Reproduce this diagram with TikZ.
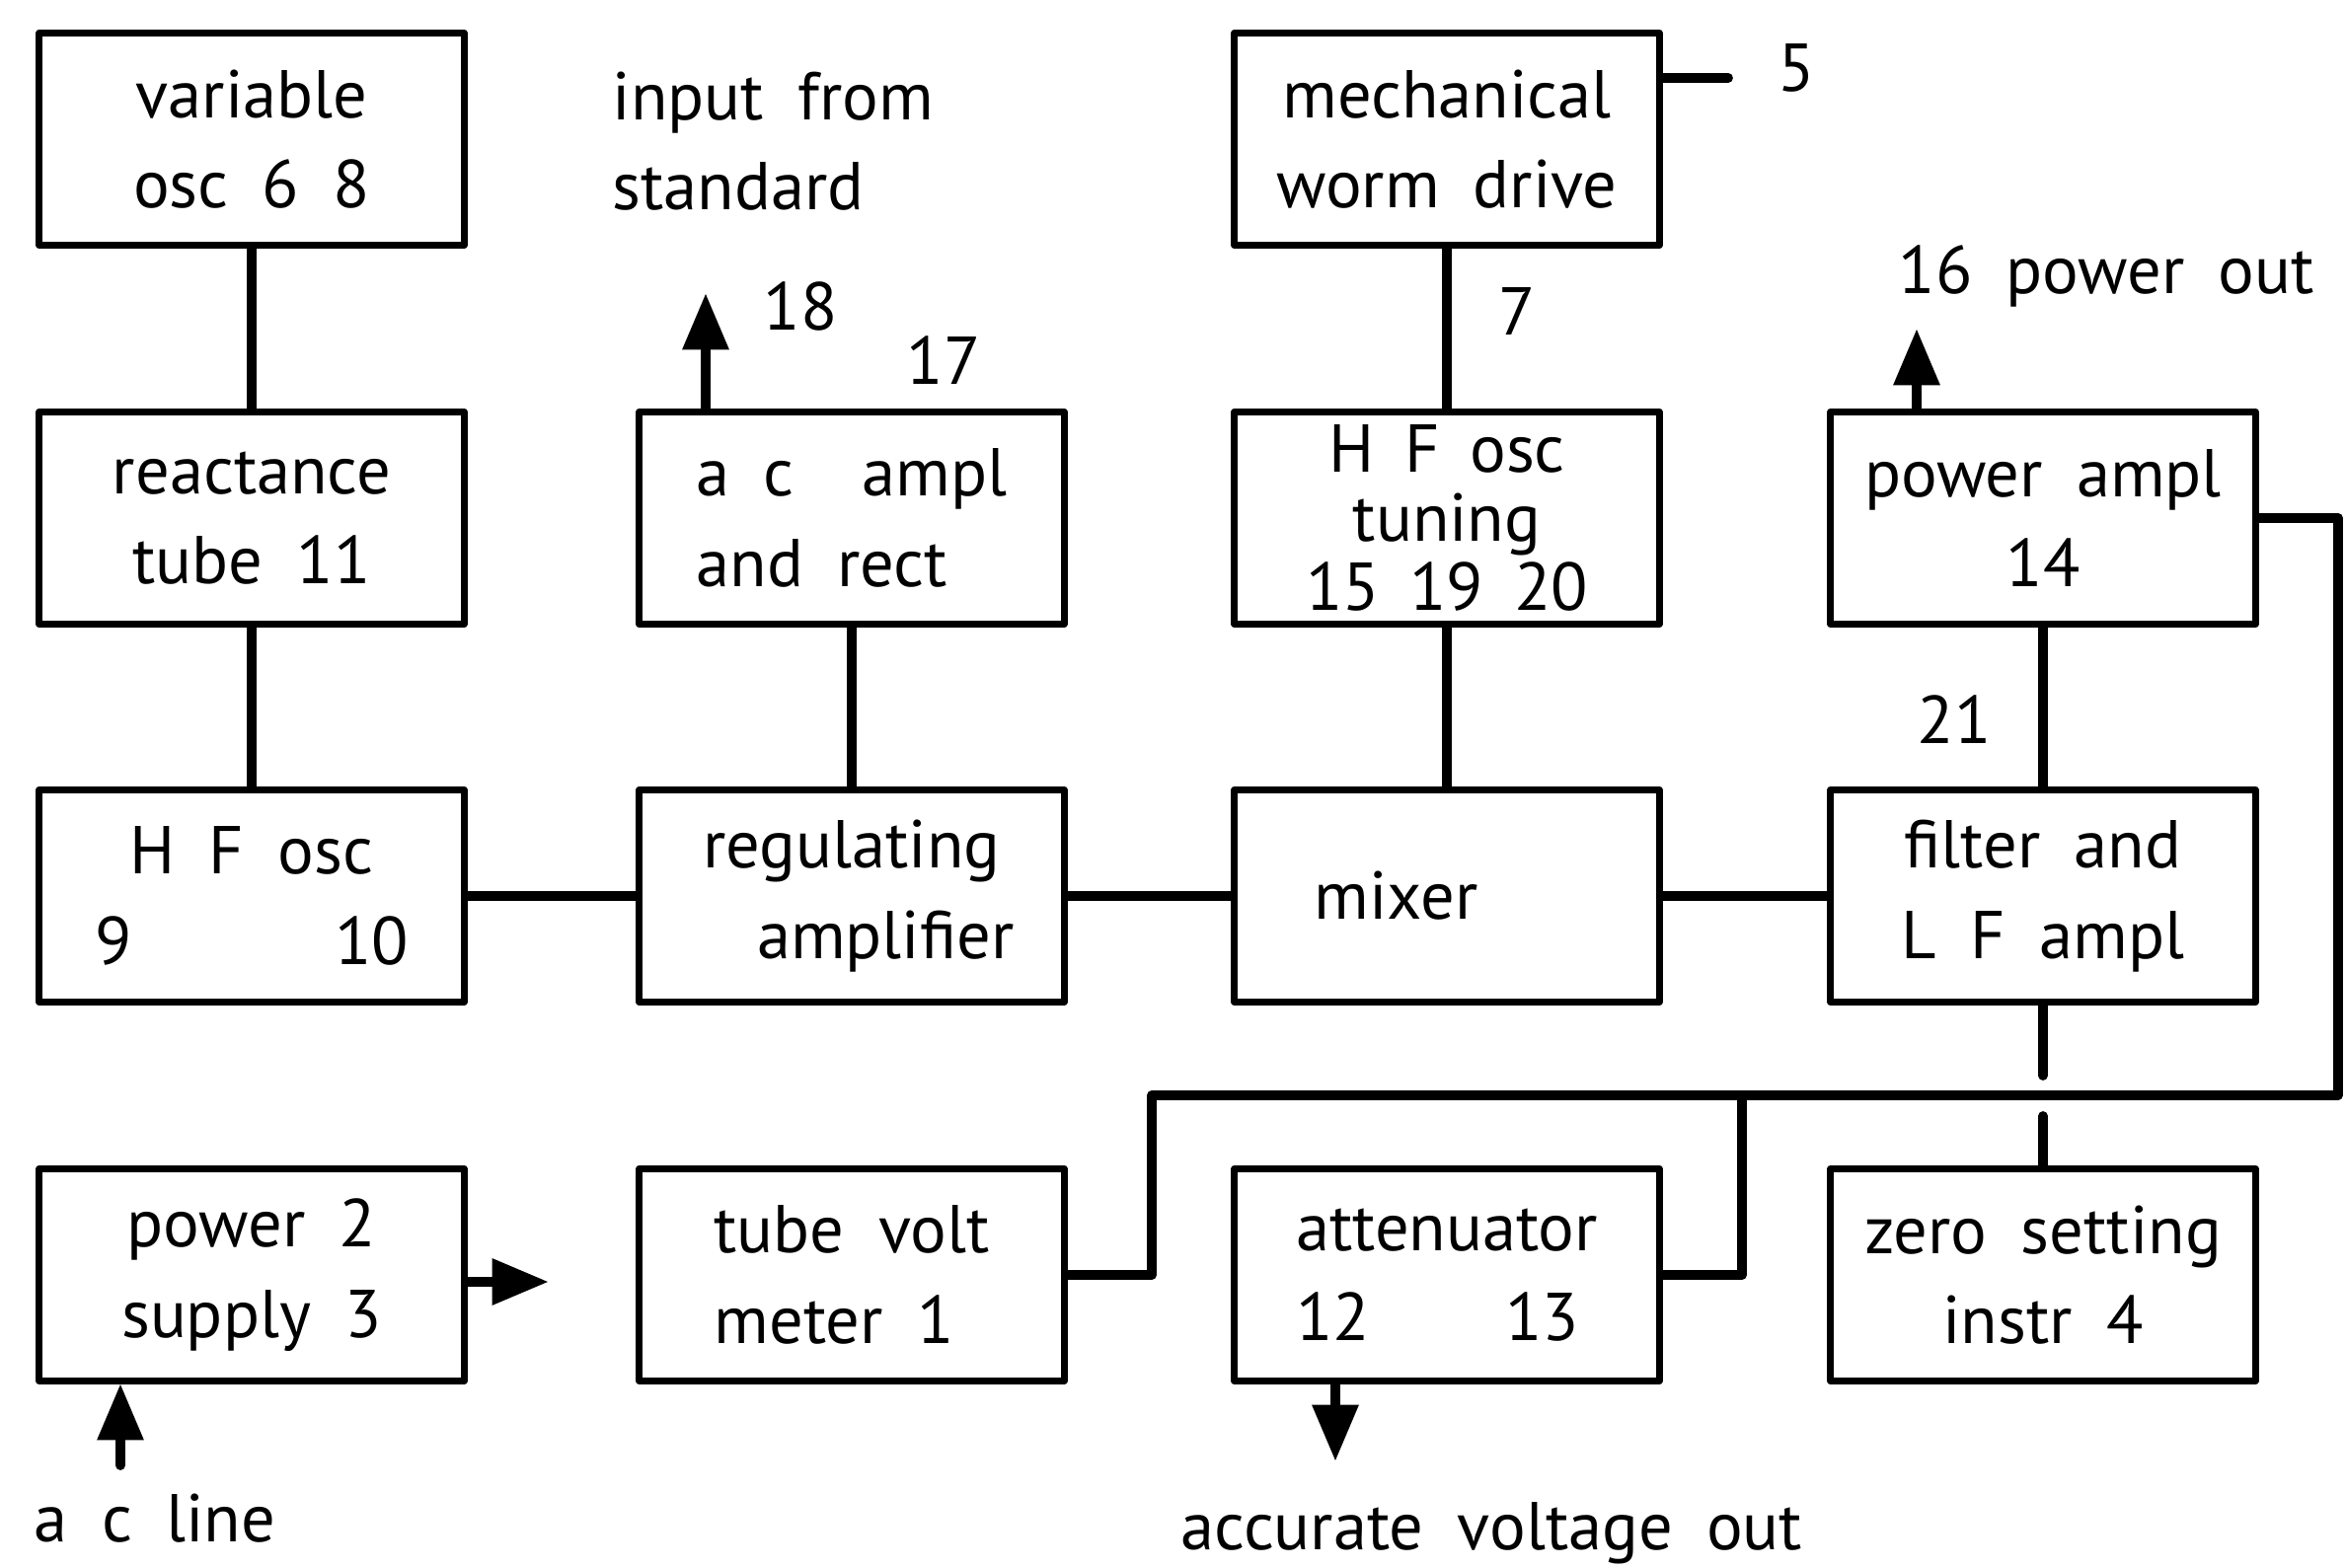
\documentclass[tikz,border=0pt]{standalone}
\usepackage{fontspec}
\setmainfont{PT Sans}
\usetikzlibrary{arrows}
\newcommand\diafont{\fontsize{19.5}{26}\selectfont\spaceskip=.5em\relax}
\newcommand\tightfont{\fontsize{19.5}{20}\selectfont\spaceskip=.45em\relax}
\tikzset{
  blk/.style={draw,line width=2pt,minimum width=4.3cm,minimum height=2.15cm,
    align=center,inner sep=2pt,font=\diafont},
  wire/.style={line width=2.8pt},
  lbl/.style={inner sep=0pt,font=\diafont}
}
\begin{document}
\begin{tikzpicture}[line cap=round,line join=round,>=triangle 45,x=0.01cm,y=-0.01cm]
\useasboundingbox (0,0) rectangle (2377,1589);
% blocks, column by column
\node[blk] (var) at (255,141) {variable\\osc 6 8};
\node[blk] (react) at (255,525) {reactance\\tube 11};
\node[blk] (hfosc) at (255,908) {H F osc\\9\hspace{3em}10};
\node[blk] (psu) at (255,1292) {power 2\\supply 3};
\node[blk,align=left] (acamp) at (863,525) {a c \ ampl\\and rect};
\node[blk] (reg) at (863,908) {regulating\\\hspace{1em}amplifier};
\node[blk,align=left] (tvm) at (863,1292) {tube volt\\meter 1};
\node[blk] (mech) at (1466,141) {mechanical\\worm drive};
\node[blk,font=\tightfont] (tune) at (1466,525) {H F osc\\tuning\\15 19 20};
\node[blk] (mixer) at (1466,908) {mixer\hspace{1.5em}};
\node[blk,align=left] (atten) at (1466,1292) {attenuator\\12\hspace{2em}13};
\node[blk] (pamp) at (2070,525) {power ampl\\14};
\node[blk] (filt) at (2070,908) {filter and\\L F ampl};
\node[blk] (zero) at (2070,1292) {zero setting\\instr 4};
% free labels
\node[lbl,anchor=west,align=left] (inp) at (620,143) {input from\\standard};
\node[lbl] (n18) at (811,311) {18};
\node[lbl] (n17) at (956,365) {17};
\node[lbl] (n5) at (1820,69) {5};
\node[lbl] (n7) at (1537,316) {7};
\node[lbl,anchor=west] (pout) at (1923,280) {16 power out};
\node[lbl] (n21) at (1980,729) {21};
\node[lbl,anchor=west] (acl) at (34,1539) {a c line};
\node[lbl,anchor=west] (vout) at (1196,1554) {accurate voltage out};
% free ends
\coordinate (o18) at (715,298);
\coordinate (o16) at (1942,334);
\coordinate (c5) at (1751,79);
\coordinate (psuout) at (555,1299);
\coordinate (acin) at (122,1485);
\coordinate (vend) at (1353,1480);
\coordinate (bR) at (2369,1110);
\coordinate (bL) at (1167,1110);
\coordinate (bA) at (1765,1110);
\coordinate (g1) at (2072,1090);
\coordinate (g2) at (2072,1131);
% connectors
\draw[wire] (var) -- (react);
\draw[wire] (react) -- (hfosc);
\draw[wire] (hfosc) -- (reg);
\draw[wire] (reg) -- (mixer);
\draw[wire] (mixer) -- (filt);
\draw[wire] (acamp) -- (reg);
\draw[wire] (mech) -- (tune);
\draw[wire] (tune) -- (mixer);
\draw[wire] (pamp) -- (filt);
\draw[wire] (mech.east |- c5) -- (c5);
\draw[wire,->] (o18 |- acamp.north) -- (o18);
\draw[wire,->] (o16 |- pamp.north) -- (o16);
\draw[wire,->] (psu.east |- psuout) -- (psuout);
\draw[wire,->] (acin) -- (acin |- psu.south);
\draw[wire,->] (vend |- atten.south) -- (vend);
\draw[wire] (pamp.east) -| (bR) -- (bL) |- (tvm.east);
\draw[wire] (bA) |- (atten.east);
\draw[wire] (filt.south) -- (filt.south |- g1);
\draw[wire] (zero.north |- g2) -- (zero.north);
\end{tikzpicture}
\end{document}
